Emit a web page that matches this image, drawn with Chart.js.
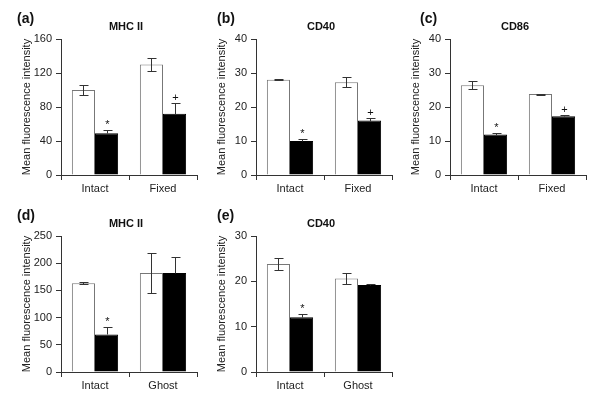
<!DOCTYPE html>
<html>
<head>
<meta charset="utf-8">
<script src="https://cdn.jsdelivr.net/npm/chart.js@4/dist/chart.umd.min.js"></script>
<style>
  body { margin: 0; background: #fff; }
  #fig { position: relative; width: 600px; height: 404px; overflow: hidden; }
  #fig canvas { position: absolute; }
</style>
</head>
<body>
<div id="fig"></div>
<script>
// categories
const catsFixed = ["Intact", "Fixed"];
const catsGhost = ["Intact", "Ghost"];

// (a) MHC II
const aWhite = [100, 130];
const aWhiteErr = [6, 8];
const aBlack = [49, 72];
const aBlackErr = [3.5, 12.5];
const aMarks = ["*", "+"];

// (b) CD40
const bWhite = [28, 27.3];
const bWhiteErr = [0.2, 1.4];
const bBlack = [10, 16];
const bBlackErr = [0.5, 0.9];
const bMarks = ["*", "+"];

// (c) CD86
const cWhite = [26.4, 23.8];
const cWhiteErr = [1.2, 0.15];
const cBlack = [11.9, 17.3];
const cBlackErr = [0.5, 0.4];
const cMarks = ["*", "+"];

// (d) MHC II
const dWhite = [163, 182];
const dWhiteErr = [2, 37];
const dBlack = [69, 182];
const dBlackErr = [13, 30];
const dMarks = ["*", ""];

// (e) CD40
const eWhite = [23.8, 20.6];
const eWhiteErr = [1.3, 1.2];
const eBlack = [12.1, 19.2];
const eBlackErr = [0.6, 0.3];
const eMarks = ["*", ""];

const yTitle = "Mean fluorescence intensity";
const FONT = "'Liberation Sans', Arial, Helvetica, sans-serif";
const AXIS = "#333";

const panels = [
  { id: "(a)", title: "MHC II", cats: catsFixed, white: aWhite, whiteErr: aWhiteErr, black: aBlack, blackErr: aBlackErr, marks: aMarks, max: 160, step: 40, left: 0, top: 0, labelX: 17 },
  { id: "(b)", title: "CD40", cats: catsFixed, white: bWhite, whiteErr: bWhiteErr, black: bBlack, blackErr: bBlackErr, marks: bMarks, max: 40, step: 10, left: 195, top: 0, labelX: 22 },
  { id: "(c)", title: "CD86", cats: catsFixed, white: cWhite, whiteErr: cWhiteErr, black: cBlack, blackErr: cBlackErr, marks: cMarks, max: 40, step: 10, left: 389, top: 0, labelX: 31 },
  { id: "(d)", title: "MHC II", cats: catsGhost, white: dWhite, whiteErr: dWhiteErr, black: dBlack, blackErr: dBlackErr, marks: dMarks, max: 250, step: 50, left: 0, top: 197, labelX: 17 },
  { id: "(e)", title: "CD40", cats: catsGhost, white: eWhite, whiteErr: eWhiteErr, black: eBlack, blackErr: eBlackErr, marks: eMarks, max: 30, step: 10, left: 195, top: 197, labelX: 22 }
];

// error bars, significance marks, panel letters and titles
const panelDeco = {
  id: "panelDeco",
  afterDatasetsDraw(chart, args, opts) {
    const p = opts.panel;
    const ctx = chart.ctx;
    const y = chart.scales.y;
    const sets = [[p.white, p.whiteErr, false], [p.black, p.blackErr, true]];
    ctx.save();
    ctx.strokeStyle = AXIS;
    ctx.lineWidth = 1;
    sets.forEach(([vals, errs, isBlack], di) => {
      const meta = chart.getDatasetMeta(di);
      meta.data.forEach((bar, j) => {
        const x = Math.round(bar.x) + 0.5;
        const yTop = Math.round(y.getPixelForValue(vals[j] + errs[j])) + 0.5;
        const yBot = Math.round(y.getPixelForValue(isBlack ? vals[j] : vals[j] - errs[j])) + 0.5;
        ctx.beginPath();
        ctx.moveTo(x, yTop); ctx.lineTo(x, yBot);
        ctx.moveTo(x - 4, yTop); ctx.lineTo(x + 5, yTop);
        if (!isBlack) { ctx.moveTo(x - 4, yBot); ctx.lineTo(x + 5, yBot); }
        ctx.stroke();
        if (isBlack && p.marks[j]) {
          ctx.fillStyle = "#111";
          ctx.font = "11px " + FONT;
          ctx.textAlign = "center";
          ctx.textBaseline = "alphabetic";
          ctx.fillText(p.marks[j], x, yTop - 3);
        }
      });
    });
    ctx.restore();
  },
  afterDraw(chart, args, opts) {
    const p = opts.panel;
    const ctx = chart.ctx;
    const area = chart.chartArea;
    ctx.save();
    ctx.fillStyle = "#111";
    ctx.textBaseline = "middle";
    ctx.textAlign = "left";
    ctx.font = "bold 14px " + FONT;
    ctx.fillText(p.id, p.labelX, 19);
    ctx.textAlign = "center";
    ctx.font = "bold 11px " + FONT;
    ctx.fillText(p.title, (area.left + area.right) / 2 - 3, 27);
    ctx.restore();
  }
};

const fig = document.getElementById("fig");

panels.forEach(p => {
  const cv = document.createElement("canvas");
  cv.width = 200;
  cv.height = 200;
  cv.style.left = p.left + "px";
  cv.style.top = p.top + "px";
  fig.appendChild(cv);

  new Chart(cv, {
    type: "bar",
    data: {
      labels: p.cats,
      datasets: [
        { data: p.white, backgroundColor: "#fff", borderColor: "#777", borderWidth: 1, categoryPercentage: 0.68, barPercentage: 1.0 },
        { data: p.black, backgroundColor: "#000", borderColor: "#000", borderWidth: 1, categoryPercentage: 0.68, barPercentage: 1.0 }
      ]
    },
    options: {
      responsive: false,
      animation: false,
      layout: { padding: { left: 14, right: 3, top: 39, bottom: 0 } },
      plugins: {
        legend: { display: false },
        tooltip: { enabled: false },
        panelDeco: { panel: p }
      },
      scales: {
        x: {
          grid: { drawOnChartArea: false, offset: true, tickLength: 5, color: AXIS },
          border: { color: AXIS },
          ticks: { color: "#222", font: { family: FONT, size: 11 }, padding: 2 },
          afterFit: s => { s.height = 25; }
        },
        y: {
          min: 0,
          max: p.max,
          ticks: { stepSize: p.step, color: "#222", font: { family: FONT, size: 11 }, padding: 4 },
          grid: { drawOnChartArea: false, tickLength: 5, color: AXIS },
          border: { color: AXIS },
          title: { display: true, text: yTitle, color: "#222", font: { family: FONT, size: 11 }, padding: { top: 6, bottom: 0 } },
          afterFit: s => { s.width = 47; }
        }
      }
    },
    plugins: [panelDeco]
  });
});
</script>
</body>
</html>
